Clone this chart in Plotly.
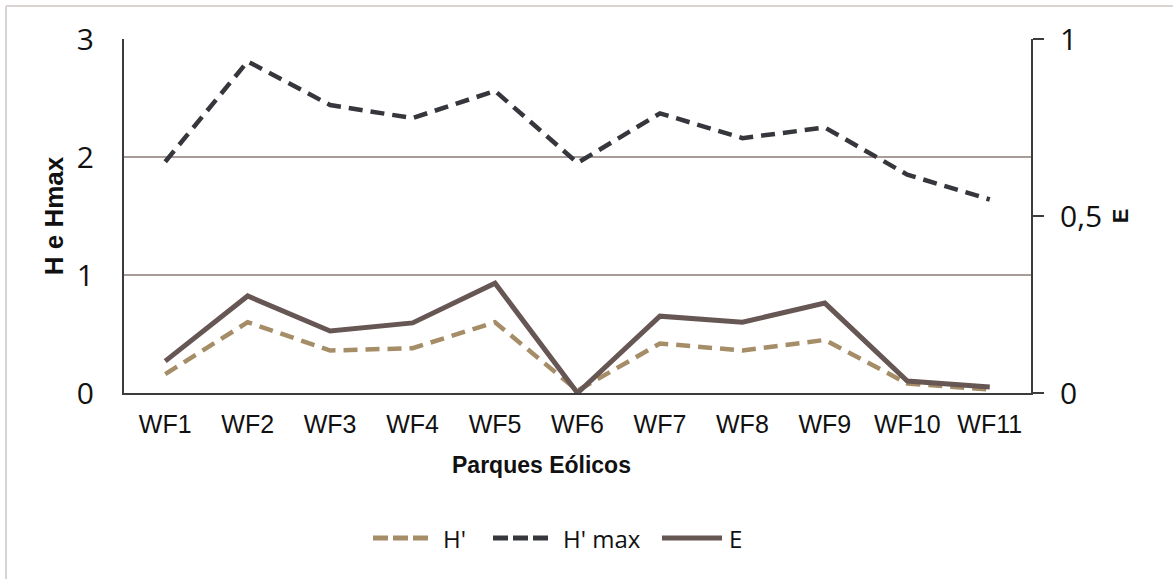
import plotly.graph_objects as go

# Wind farm diversity indices
parques = ["WF1", "WF2", "WF3", "WF4", "WF5", "WF6", "WF7", "WF8", "WF9", "WF10", "WF11"]
h_shannon = [0.16, 0.60, 0.36, 0.38, 0.60, 0.02, 0.42, 0.36, 0.45, 0.08, 0.03]
h_max = [1.96, 2.81, 2.44, 2.33, 2.56, 1.95, 2.37, 2.16, 2.25, 1.85, 1.64]
equitabilidade = [0.09, 0.274, 0.175, 0.198, 0.31, 0.0, 0.217, 0.20, 0.254, 0.034, 0.017]

series_names = ["H'", "H' max", "E"]

COL_H = "#A58D68"
COL_HMAX = "#35373C"
COL_E = "#665755"
GRID = "#A89C98"
AXIS = "#3C3C3C"
DASH = "14px,8px"

W, H = 1173, 579
L, R, T, B = 124, 1031, 39, 393
pw, ph = R - L, B - T

def px_x(x):
    return (x - L) / pw

def px_y(y):
    return (B - y) / ph

fig = go.Figure()
fig.add_trace(go.Scatter(x=parques, y=h_shannon, name=series_names[0], mode="lines",
                         line=dict(color=COL_H, width=4.5, dash=DASH)))
fig.add_trace(go.Scatter(x=parques, y=h_max, name=series_names[1], mode="lines",
                         line=dict(color=COL_HMAX, width=4.5, dash=DASH)))
fig.add_trace(go.Scatter(x=parques, y=equitabilidade, name=series_names[2], mode="lines",
                         yaxis="y2", line=dict(color=COL_E, width=5)))

fig.update_layout(
    width=W, height=H,
    margin=dict(l=L, r=W - R, t=T, b=H - B),
    paper_bgcolor="white", plot_bgcolor="white",
    separators=",.",
    showlegend=False,
    xaxis=dict(type="category", range=[-0.5, 10.5], showgrid=False, showline=True,
               linecolor=AXIS, linewidth=2, ticks="", ticklabelstandoff=8,
               tickfont=dict(family="Liberation Sans", size=25, color="#111111"),
               zeroline=False),
    yaxis=dict(range=[0, 3], dtick=1, showgrid=True, gridcolor=GRID, gridwidth=2,
               showline=True, linecolor=AXIS, linewidth=2, ticks="", zeroline=False,
               ticklabelstandoff=22,
               tickfont=dict(family="Open Sans", size=30, color="#111111"),
               title=dict(text="<b>H e Hmax</b>", standoff=6,
                          font=dict(family="Liberation Sans", size=26, color="#111111"))),
    yaxis2=dict(range=[0, 1], dtick=0.5, overlaying="y", side="right", showgrid=False,
                showline=True, linecolor=AXIS, linewidth=2, ticks="outside", ticklen=11,
                tickwidth=2, tickcolor=AXIS, zeroline=False, ticklabelstandoff=10,
                tickfont=dict(family="Open Sans", size=30, color="#111111"),
                title=dict(text="<b>E</b>", standoff=12,
                           font=dict(family="Liberation Sans", size=22, color="#111111"))),
)

fig.add_annotation(text="<b>Parques Eólicos</b>", xref="paper", yref="paper",
                   x=px_x(541), y=px_y(465), showarrow=False, xanchor="center", yanchor="middle",
                   font=dict(family="Liberation Sans", size=23, color="#111111"))

# Legend drawn as line samples with labels beside them
legend_items = [
    (series_names[0], COL_H, DASH, 373, 429, 441),
    (series_names[1], COL_HMAX, DASH, 493, 549, 561),
    (series_names[2], COL_E, "solid", 662, 722, 727),
]
ly = px_y(538)
for label, color, dash, x0, x1, tx in legend_items:
    fig.add_shape(type="line", xref="paper", yref="paper", x0=px_x(x0), x1=px_x(x1),
                  y0=ly, y1=ly, line=dict(color=color, width=5,
                                          dash="15px,5px" if dash != "solid" else "solid"))
    fig.add_annotation(text=label, xref="paper", yref="paper", x=px_x(tx), y=ly,
                       showarrow=False, xanchor="left", yanchor="middle",
                       font=dict(family="Open Sans", size=24, color="#111111"))

# Outer chart frame
fig.add_shape(type="line", xref="paper", yref="paper", x0=px_x(6), x1=px_x(1200),
              y0=px_y(6), y1=px_y(6), line=dict(color="#D9D4D1", width=2))
fig.add_shape(type="line", xref="paper", yref="paper", x0=px_x(6), x1=px_x(6),
              y0=px_y(6), y1=px_y(600), line=dict(color="#D9D4D1", width=2))

fig.write_html("out.html")
